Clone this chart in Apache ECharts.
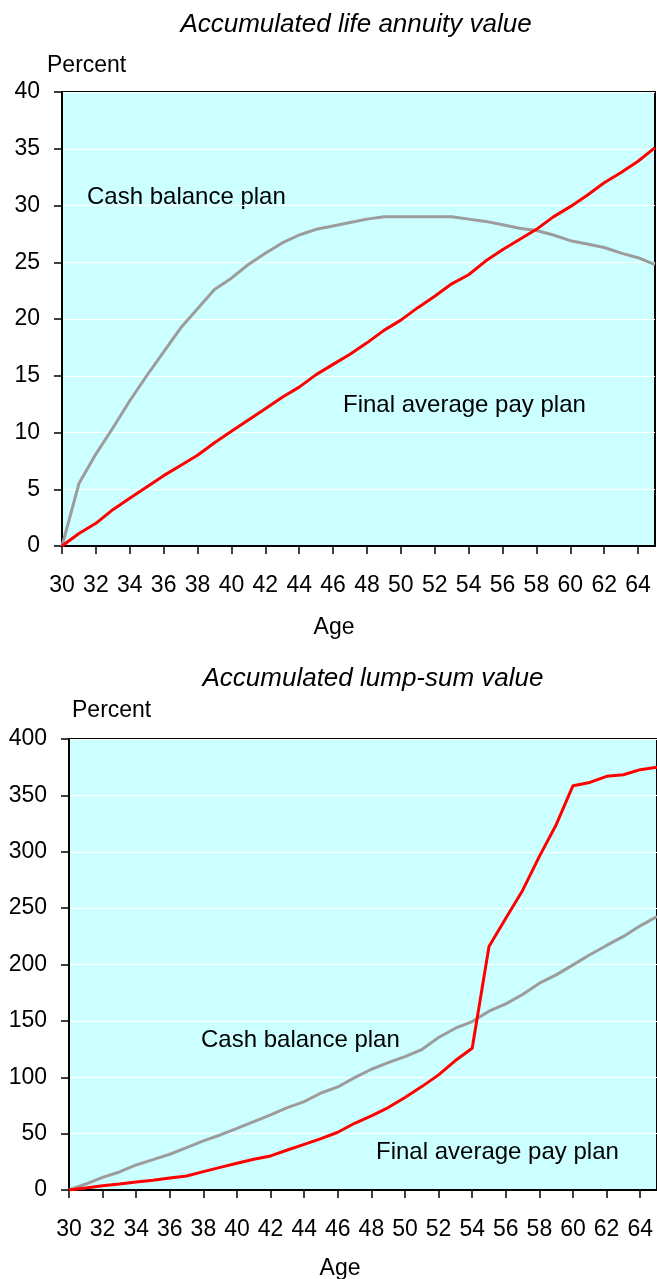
<!DOCTYPE html>
<html>
<head>
<meta charset="utf-8">
<script src="https://cdn.jsdelivr.net/npm/echarts@6/dist/echarts.min.js"></script>
<style>
  html, body { margin: 0; padding: 0; background: #fff; }
  #chart { width: 657px; height: 1279px; }
</style>
</head>
<body>
<div id="chart"></div>
<script>
const ages = [30, 31, 32, 33, 34, 35, 36, 37, 38, 39, 40, 41, 42, 43, 44, 45, 46, 47,
  48, 49, 50, 51, 52, 53, 54, 55, 56, 57, 58, 59, 60, 61, 62, 63, 64, 65]

// accumulated life annuity value, percent
const annuityCash = [0, 5.5, 8.1, 10.4, 12.8, 15.0, 17.1, 19.2, 20.9, 22.6, 23.6, 24.8,
  25.8, 26.7, 27.4, 27.9, 28.2, 28.5, 28.8, 29.0, 29.0, 29.0, 29.0, 29.0, 28.8, 28.6,
  28.3, 28.0, 27.8, 27.4, 26.9, 26.6, 26.3, 25.8, 25.4, 24.8]
const annuityFinal = [0, 1.1, 2.0, 3.2, 4.2, 5.2, 6.2, 7.1, 8.0, 9.1, 10.1, 11.1, 12.1,
  13.1, 14.0, 15.1, 16.0, 16.9, 17.9, 19.0, 19.9, 21.0, 22.0, 23.1, 23.9, 25.1, 26.1,
  27.0, 27.9, 29.0, 29.9, 30.9, 32.0, 32.9, 33.9, 35.1]

// accumulated lump-sum value, percent
const lumpCash = [0, 5.3, 11.2, 16.0, 22.2, 26.9, 31.7, 37.6, 43.5, 48.8, 54.7, 60.7,
  66.6, 73.1, 78.4, 86.0, 91.4, 99.7, 107.1, 113.0, 118.3, 124.6, 135.2, 143.5, 149.4,
  158.6, 165.1, 173.4, 183.4, 190.8, 199.7, 208.6, 216.9, 224.9, 234.3, 242.6]
const lumpFinal = [0, 1.8, 3.8, 5.3, 7.1, 8.6, 10.7, 12.4, 16.3, 20.1, 23.7, 27.2, 30.2,
  35.5, 40.5, 45.5, 51.2, 59.2, 65.7, 73.1, 82.0, 91.7, 102.1, 114.8, 125.7, 216.0,
  241.0, 265.7, 295.9, 324.0, 358.6, 361.5, 366.9, 368.3, 372.8, 375.0]

const FONT = '"Liberation Sans", Arial, sans-serif'
const RED = "#ff0000"
const GRAY = "#9c9c9c"

function xAxisFor(gridIndex, fontSize, margin) {
  return {
    type: "category",
    gridIndex,
    data: ages.map(String),
    boundaryGap: false,
    axisLine: { lineStyle: { color: "#000", width: 2 } },
    axisTick: { interval: 1, length: 8, lineStyle: { color: "#000", width: 1.5 } },
    axisLabel: { interval: 1, margin, fontSize, color: "#000", fontFamily: FONT },
    splitLine: { show: false },
  }
}

function yAxisFor(gridIndex, max, interval, fontSize) {
  return {
    type: "value",
    gridIndex,
    min: 0,
    max,
    interval,
    axisLine: { show: true, lineStyle: { color: "#000", width: 2 } },
    axisTick: { show: true, length: 8, lineStyle: { color: "#000", width: 1.5 } },
    axisLabel: { margin: 22, fontSize, color: "#000", fontFamily: FONT },
    splitLine: { show: true, lineStyle: { color: "#fff", width: 1.2 } },
  }
}

function line(data, color, idx) {
  return {
    type: "line",
    data,
    xAxisIndex: idx,
    yAxisIndex: idx,
    showSymbol: false,
    lineStyle: { color, width: 3 },
    itemStyle: { color },
    z: color === RED ? 3 : 2,
  }
}

function label(text, x, y, size, opts) {
  return {
    type: "text",
    x,
    y,
    style: Object.assign({
      text,
      font: size + "px " + FONT,
      fill: "#000",
      align: "left",
      verticalAlign: "middle",
    }, opts || {}),
  }
}

const chart = echarts.init(document.getElementById("chart"))

chart.setOption({
  animation: false,
  backgroundColor: "#fff",
  grid: [
    { left: 62, top: 92, width: 593, height: 454, show: true, backgroundColor: "#ccffff",
      borderColor: "#000", borderWidth: 2 },
    { left: 69, top: 739, width: 596, height: 451, show: true, backgroundColor: "#ccffff",
      borderColor: "#000", borderWidth: 2 },
  ],
  xAxis: [xAxisFor(0, 23, 28), xAxisFor(1, 23, 28)],
  yAxis: [yAxisFor(0, 40, 5, 23), yAxisFor(1, 400, 50, 23)],
  series: [
    line(annuityCash, GRAY, 0),
    line(annuityFinal, RED, 0),
    line(lumpCash, GRAY, 1),
    line(lumpFinal, RED, 1),
  ],
  graphic: [
    label("Accumulated life annuity value", 356, 24.5, 26, { align: "center", font: "italic 26px " + FONT }),
    label("Percent", 47, 66, 23),
    label("Cash balance plan", 87, 197, 24),
    label("Final average pay plan", 343, 405.5, 24),
    label("Age", 334, 628, 23, { align: "center" }),

    label("Accumulated lump-sum value", 373, 679, 26, { align: "center", font: "italic 26px " + FONT }),
    label("Percent", 72, 711, 23),
    label("Cash balance plan", 201, 1040, 24),
    label("Final average pay plan", 376, 1152, 24),
    label("Age", 340, 1269, 23, { align: "center" }),
  ],
})
</script>
</body>
</html>
